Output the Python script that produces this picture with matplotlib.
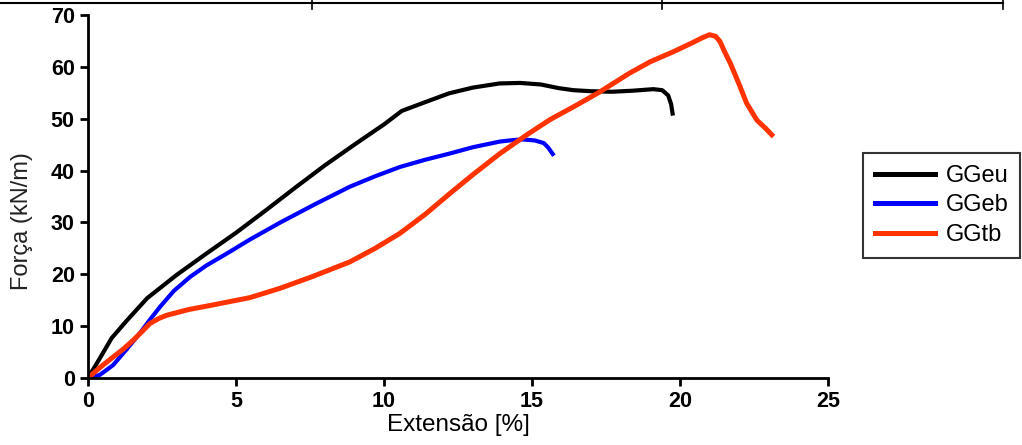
import matplotlib.pyplot as plt
from matplotlib.lines import Line2D
import numpy as np

# curves (extension %, force kN/m)
ggeu_x = [0, 0.4, 0.8, 1.3, 2.0, 3.0, 4.0, 5.0, 6.0, 7.0, 8.0, 9.0, 10.0, 10.6, 11.3, 12.2, 13.0, 13.9, 14.6, 15.3, 15.9, 16.4, 17.0, 17.7, 18.4, 19.1, 19.4, 19.6, 19.7, 19.75]
ggeu_y = [0, 3.8, 7.7, 11.0, 15.4, 19.9, 24.0, 28.0, 32.3, 36.7, 41.0, 45.0, 48.9, 51.5, 53.0, 54.9, 56.0, 56.8, 56.9, 56.6, 55.9, 55.5, 55.3, 55.2, 55.4, 55.7, 55.5, 54.5, 52.8, 51.0]

ggeb_x = [0, 0.4, 0.85, 1.3, 1.76, 2.1, 2.43, 2.9, 3.45, 4.0, 4.69, 5.47, 6.5, 7.7, 8.85, 9.7, 10.54, 11.4, 12.23, 13.0, 13.92, 14.4, 14.7, 15.1, 15.4, 15.55, 15.7]
ggeb_y = [0, 0.6, 2.5, 5.5, 8.7, 11.3, 13.7, 16.8, 19.5, 21.7, 24.0, 26.7, 30.0, 33.6, 36.9, 38.9, 40.7, 42.1, 43.3, 44.5, 45.6, 45.9, 46.0, 45.8, 45.3, 44.4, 43.2]

ggtb_x = [0, 0.4, 0.86, 1.2, 1.53, 1.85, 2.09, 2.4, 2.66, 3.4, 4.23, 5.47, 6.49, 7.6, 8.85, 9.7, 10.54, 11.4, 12.23, 13.0, 13.92, 14.8, 15.6, 16.5, 17.3, 18.3, 19.0, 19.77, 20.4, 20.75, 21.0, 21.2, 21.35, 21.5, 21.7, 22.0, 22.25, 22.6, 22.9, 23.1]
ggtb_y = [0, 2.0, 4.1, 5.6, 7.3, 9.1, 10.5, 11.5, 12.1, 13.2, 14.1, 15.5, 17.3, 19.6, 22.4, 25.0, 27.9, 31.6, 35.6, 39.2, 43.3, 46.8, 49.8, 52.6, 55.2, 58.8, 61.0, 62.9, 64.6, 65.6, 66.2, 65.9, 64.9, 63.0, 60.7, 56.6, 53.0, 49.7, 48.1, 46.9]

labels = ['GGeu', 'GGeb', 'GGtb']
colors = ['black', '#0000ff', '#ff3300']

plt.rcParams['font.family'] = ['Liberation Sans', 'DejaVu Sans']

fig = plt.figure(figsize=(10.22, 4.45), dpi=100)
ax = fig.add_axes([88 / 1022, 1 - 378 / 445, (828 - 88) / 1022, (378 - 15) / 445])

ax.plot(ggeu_x, ggeu_y, color=colors[0], lw=3.0, label=labels[0], solid_joinstyle='round')
ax.plot(ggeb_x, ggeb_y, color=colors[1], lw=3.0, label=labels[1], solid_joinstyle='round')
ax.plot(ggtb_x, ggtb_y, color=colors[2], lw=3.6, label=labels[2], solid_joinstyle='round')

ax.set_xlim(0, 25)
ax.set_ylim(0, 70)
ax.set_xticks(np.arange(0, 26, 5))
ax.set_yticks(np.arange(0, 71, 10))
for s in ['top', 'right']:
    ax.spines[s].set_visible(False)
for s in ['left', 'bottom']:
    ax.spines[s].set_linewidth(2.0)
ax.tick_params(direction='out', length=6, width=2.0, labelsize=15.5)
for t in ax.get_xticklabels() + ax.get_yticklabels():
    t.set_fontweight('bold')

ax.set_xlabel('Extensão [%]', fontsize=17.5, labelpad=1)
ax.set_ylabel('Força (kN/m)', fontsize=17, color='#222222')
ax.yaxis.set_label_coords(-0.074, 0.431)

leg = fig.legend(handles=[Line2D([], [], color=c, lw=3.6) for c in colors], labels=labels,
                 loc='upper left', bbox_to_anchor=(863 / 1022, 1 - 153 / 445), borderaxespad=0,
                 fontsize=17, frameon=True, fancybox=False, handlelength=2.55,
                 borderpad=0.5, labelspacing=0.32, handletextpad=0.45)
leg.get_frame().set_edgecolor('black')
leg.get_frame().set_linewidth(1.5)

# table border remnant at the top
yt = 1 - 3 / 445
fig.add_artist(Line2D([0, 1003 / 1022], [yt, yt], color='black', lw=1.5))
for xv in [312, 662, 1003]:
    fig.add_artist(Line2D([xv / 1022, xv / 1022], [1, 1 - 9 / 445], color='black', lw=1.2))

fig.savefig('out.png', dpi=100)
